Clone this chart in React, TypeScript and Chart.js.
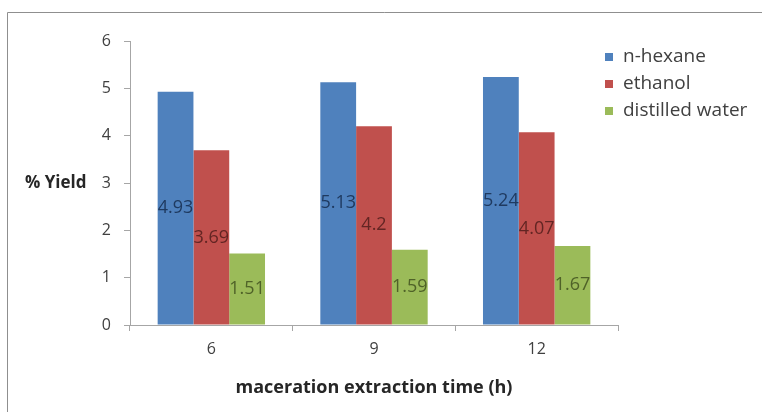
import React, { useEffect, useRef } from "react";
import { Chart, registerables } from "chart.js";

Chart.register(...registerables);

const categories = ["6", "9", "12"];
const seriesNames = ["n-hexane", "ethanol", "distilled water"];
const nHexane = [4.93, 5.13, 5.24];
const ethanol = [3.69, 4.2, 4.07];
const distilledWater = [1.51, 1.59, 1.67];
const yTicks = [0, 1, 2, 3, 4, 5, 6];

const barColors = ["#4F81BD", "#C0504D", "#9BBB59"];
const labelColors = ["#1F3A60", "#632523", "#4F6228"];
const FONT = "'Open Sans', 'DejaVu Sans', sans-serif";

const decorPlugin = {
  id: "decor",
  beforeDraw(chart: any) {
    const ctx = chart.ctx;
    ctx.save();
    ctx.strokeStyle = "#8F8F8F";
    ctx.lineWidth = 1;
    ctx.beginPath();
    ctx.moveTo(7.5, chart.height);
    ctx.lineTo(7.5, 12.5);
    ctx.lineTo(chart.width, 12.5);
    ctx.stroke();
    ctx.restore();
  },
  afterDraw(chart: any) {
    const ctx = chart.ctx;
    ctx.save();
    // y-axis title (horizontal, at value 3)
    const yScale = chart.scales.y;
    ctx.font = `bold 17px ${FONT}`;
    ctx.fillStyle = "#262626";
    ctx.textAlign = "left";
    ctx.textBaseline = "middle";
    ctx.fillText("% Yield", 25, yScale.getPixelForValue(3));

    // data labels centered in bars
    ctx.font = `18px ${FONT}`;
    ctx.textAlign = "center";
    chart.data.datasets.forEach((ds: any, di: number) => {
      const meta = chart.getDatasetMeta(di);
      ctx.fillStyle = labelColors[di];
      meta.data.forEach((el: any, i: number) => {
        const p = el.getCenterPoint();
        ctx.fillText(String(ds.data[i]), p.x, p.y);
      });
    });

    // legend
    ctx.font = `19px ${FONT}`;
    ctx.textAlign = "left";
    chart.data.datasets.forEach((ds: any, di: number) => {
      const cy = 57 + di * 27;
      ctx.fillStyle = ds.backgroundColor;
      ctx.fillRect(605, cy - 4, 8, 8);
      ctx.fillStyle = "#404040";
      ctx.fillText(ds.label, 623, cy);
    });
    ctx.restore();
  },
};

export default function App() {
  const ref = useRef<HTMLCanvasElement | null>(null);

  useEffect(() => {
    if (!ref.current) return;
    const chart = new Chart(ref.current, {
      type: "bar",
      data: {
        labels: categories,
        datasets: [nHexane, ethanol, distilledWater].map((d, i) => ({
          label: seriesNames[i],
          data: d,
          backgroundColor: barColors[i],
          borderWidth: 0,
          categoryPercentage: 0.66,
          barPercentage: 1,
        })),
      },
      options: {
        responsive: false,
        animation: false,
        devicePixelRatio: 1,
        layout: { padding: { top: 41, right: 144, left: 0, bottom: 0 } },
        plugins: {
          legend: { display: false },
          tooltip: { enabled: false },
          title: { display: false },
        },
        scales: {
          x: {
            grid: {
              offset: true,
              drawOnChartArea: false,
              drawTicks: true,
              tickLength: 6,
              color: "#A6A6A6",
            },
            border: { display: true, color: "#A6A6A6" },
            ticks: { font: { family: FONT, size: 16 }, color: "#404040", padding: 9 },
            title: {
              display: true,
              text: "maceration extraction time (h)",
              font: { family: FONT, size: 18, weight: "bold" },
              color: "#262626",
              padding: { top: 0, bottom: 13 },
            },
            afterFit(s: any) {
              s.height = 87;
            },
          },
          y: {
            min: 0,
            max: 6,
            afterBuildTicks(s: any) {
              s.ticks = yTicks.map((v) => ({ value: v }));
            },
            grid: {
              drawOnChartArea: false,
              drawTicks: true,
              tickLength: 6,
              color: "#A6A6A6",
            },
            border: { display: true, color: "#A6A6A6" },
            ticks: { font: { family: FONT, size: 16 }, color: "#404040", padding: 13 },
            afterFit(s: any) {
              s.width = 130;
            },
          },
        },
      },
      plugins: [decorPlugin],
    });
    return () => chart.destroy();
  }, []);

  return (
    <div style={{ position: "fixed", left: 0, top: 0, width: 762, height: 412, background: "#fff" }}>
      <canvas ref={ref} width={762} height={412} style={{ display: "block" }} />
    </div>
  );
}
